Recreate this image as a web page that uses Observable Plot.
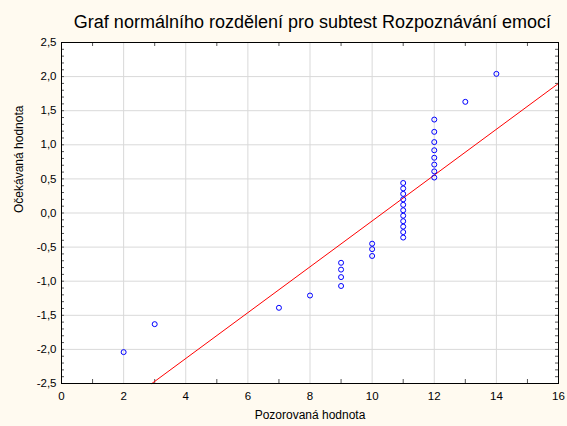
<!DOCTYPE html>
<html><head><meta charset="utf-8">
<script src="https://cdn.jsdelivr.net/npm/d3@7"></script>
<script src="https://cdn.jsdelivr.net/npm/@observablehq/plot@0.6"></script>
<style>
html,body{margin:0;padding:0;background:#fffaf0;}
body{width:567px;height:426px;overflow:hidden;font-family:"Liberation Sans",Arial,sans-serif;}
#title{height:34px;box-sizing:border-box;padding-top:13px;margin-left:64px;width:497px;text-align:center;font-size:18px;line-height:18px;color:#000;white-space:nowrap;}
</style></head><body>
<div id="title">Graf normálního rozdělení pro subtest Rozpoznávání emocí</div>
<div id="chart"></div>
<script>
// Observed values (x) and expected normal values (y)
const observed = [2, 3, 7, 8, 9, 9, 9, 9, 10, 10, 10,
  11, 11, 11, 11, 11, 11, 11, 11, 11, 11, 11,
  12, 12, 12, 12, 12, 12, 12, 12, 13, 14];
const expected = [-2.04, -1.63, -1.39, -1.21, -1.07, -0.94, -0.83, -0.73, -0.63, -0.53, -0.45,
  -0.36, -0.28, -0.20, -0.12, -0.04, 0.04, 0.12, 0.20, 0.28, 0.36, 0.44,
  0.52, 0.61, 0.71, 0.81, 0.92, 1.04, 1.19, 1.37, 1.63, 2.04];
// Reference (fit) line end points
const fitX = [2.91, 16];
const fitY = [-2.5, 1.90];
// Tick values
const xTicks = [0, 2, 4, 6, 8, 10, 12, 14, 16];
const yTicks = [-2.5, -2.0, -1.5, -1.0, -0.5, 0.0, 0.5, 1.0, 1.5, 2.0, 2.5];
const xMinor = [1, 3, 5, 7, 9, 11, 13, 15];
const yMinor = d3.range(-24, 25).map(i => i / 10);

const points = observed.map((x, i) => ({x, y: expected[i]}));
const fit = fitX.map((x, i) => ({x, y: fitY[i]}));

const W = 567, H = 392, mt = 8, mb = 43, ml = 61, mr = 9;
const ph = H - mt - mb, pw = W - ml - mr;
const fmt = d => d.toFixed(1).replace(".", ",");
const tickColor = "#555";

const chart = Plot.plot({
  width: W, height: H,
  marginTop: mt, marginBottom: mb, marginLeft: ml, marginRight: mr,
  style: {background: "transparent", fontFamily: "'Liberation Sans', Arial, sans-serif", fontSize: "11.5px", color: "#000"},
  x: {domain: [0, 16]},
  y: {domain: [-2.5, 2.5]},
  marks: [
    Plot.frame({fill: "white", stroke: null}),
    Plot.gridX(xTicks.slice(1, -1), {stroke: "#d9d9d9", strokeOpacity: 1}),
    Plot.gridY(yTicks.slice(1, -1), {stroke: "#d9d9d9", strokeOpacity: 1}),
    Plot.tickX(xMinor, {x: d => d, insetTop: ph - 4, stroke: tickColor}),
    Plot.tickX(xMinor, {x: d => d, insetBottom: ph - 4, stroke: tickColor}),
    Plot.tickY(yMinor, {y: d => d, insetRight: pw - 3, stroke: tickColor}),
    Plot.tickY(yMinor, {y: d => d, insetLeft: pw - 3, stroke: tickColor}),
    Plot.axisX(xTicks, {tickSize: 0, tickPadding: 8, tickFormat: d => String(d), label: null}),
    Plot.axisY(yTicks, {tickSize: 0, tickPadding: 5, tickFormat: fmt, label: null}),
    Plot.line(fit, {x: "x", y: "y", stroke: "#ff0000", strokeWidth: 1}),
    Plot.dot(points, {x: "x", y: "y", r: 2.5, stroke: "#0000ff", strokeWidth: 1, fill: "none"}),
    Plot.frame({stroke: "#000"}),
    Plot.text(["Pozorovaná hodnota"], {text: d => d, frameAnchor: "bottom", dy: 35, fontSize: 12}),
    Plot.text(["Očekávaná hodnota"], {text: d => d, frameAnchor: "left", dx: -42, rotate: -90, fontSize: 12})
  ]
});
document.getElementById("chart").appendChild(chart);
</script>
</body></html>
